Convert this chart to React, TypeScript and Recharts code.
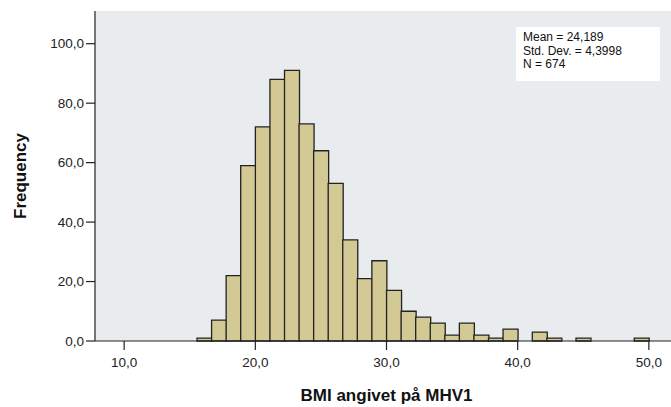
import { Bar, BarChart, CartesianGrid, Label, XAxis, YAxis } from "recharts"

// bin centres (bin width 10/9) and frequencies
const binMids = [
  16.11, 17.22, 18.33, 19.44, 20.56, 21.67, 22.78, 23.89, 25.0, 26.11, 27.22, 28.33, 29.44, 30.56, 31.67, 32.78,
  33.89, 35.0, 36.11, 37.22, 38.33, 39.44, 40.56, 41.67, 42.78, 43.89, 45.0, 46.11, 47.22, 48.33, 49.44,
]
const counts = [1, 7, 22, 59, 72, 88, 91, 73, 64, 53, 34, 21, 27, 17, 10, 8, 6, 2, 6, 2, 1, 4, 0, 3, 1, 0, 1, 0, 0, 0, 1]

const xTicks = [10, 20, 30, 40, 50]
const yTicks = [0, 20, 40, 60, 80, 100]
const statLines = ["Mean = 24,189", "Std. Dev. = 4,3998", "N = 674"]

const data = binMids.map((mid, i) => ({ mid, count: counts[i] }))

const fmt = (v: number) => v.toFixed(1).replace(".", ",")
const font = "'Liberation Sans', Arial, sans-serif"

export default function App() {
  return (
    <div style={{ position: "absolute", left: 0, top: 0, width: 671, height: 407, overflow: "hidden", background: "#fff" }}>
      <BarChart
        width={678}
        height={407}
        data={data}
        margin={{ top: 11, right: 0, left: 0, bottom: 0 }}
        barCategoryGap={0}
        barGap={0}
      >
        <CartesianGrid fill="#e9ecee" horizontal={false} vertical={false} />
        <XAxis
          xAxisId="top"
          orientation="top"
          type="number"
          domain={[7.778, 52.222]}
          height={0}
          tick={false}
          tickLine={false}
          axisLine={{ stroke: "#777", strokeWidth: 1.5 }}
        />
        <XAxis
          type="number"
          dataKey="mid"
          domain={[7.778, 52.222]}
          allowDataOverflow
          ticks={xTicks}
          tickFormatter={fmt}
          height={66}
          tickSize={9}
          tickMargin={7}
          axisLine={{ stroke: "#222", strokeWidth: 1.2 }}
          tickLine={{ stroke: "#222", strokeWidth: 1.2 }}
          tick={{ fill: "#222", fontSize: 13.5, fontFamily: font }}
        >
          <Label
            value="BMI angivet på MHV1"
            position="insideBottom"
            offset={6}
            style={{ fill: "#111", fontSize: 17, fontWeight: "bold", fontFamily: font }}
          />
        </XAxis>
        <YAxis
          domain={[0, 111]}
          ticks={yTicks}
          tickFormatter={fmt}
          width={95}
          tickSize={9}
          tickMargin={2}
          axisLine={{ stroke: "#222", strokeWidth: 1.2 }}
          tickLine={{ stroke: "#222", strokeWidth: 1.2 }}
          tick={{ fill: "#222", fontSize: 13.5, fontFamily: font }}
        >
          <Label
            content={(props: any) => {
              const vb = props.viewBox || { x: 0, y: 11, height: 330 }
              const cx = 20
              const cy = vb.y + vb.height / 2
              return (
                <text
                  x={cx}
                  y={cy}
                  transform={`rotate(-90 ${cx} ${cy})`}
                  textAnchor="middle"
                  dominantBaseline="central"
                  style={{ fill: "#111", fontSize: 17, fontWeight: "bold", fontFamily: font }}
                >
                  Frequency
                </text>
              )
            }}
          />
        </YAxis>
        <Bar dataKey="count" fill="#d3c994" stroke="#222" strokeWidth={1.3} isAnimationActive={false} />
      </BarChart>
      <div
        style={{
          position: "absolute",
          left: 516,
          top: 27,
          width: 144,
          height: 54,
          background: "#fff",
          boxSizing: "border-box",
          padding: "4px 0 0 7px",
          fontFamily: font,
          fontSize: 12,
          lineHeight: "13.5px",
          color: "#111",
        }}
      >
        {statLines.map((s) => (
          <div key={s}>{s}</div>
        ))}
      </div>
    </div>
  )
}
